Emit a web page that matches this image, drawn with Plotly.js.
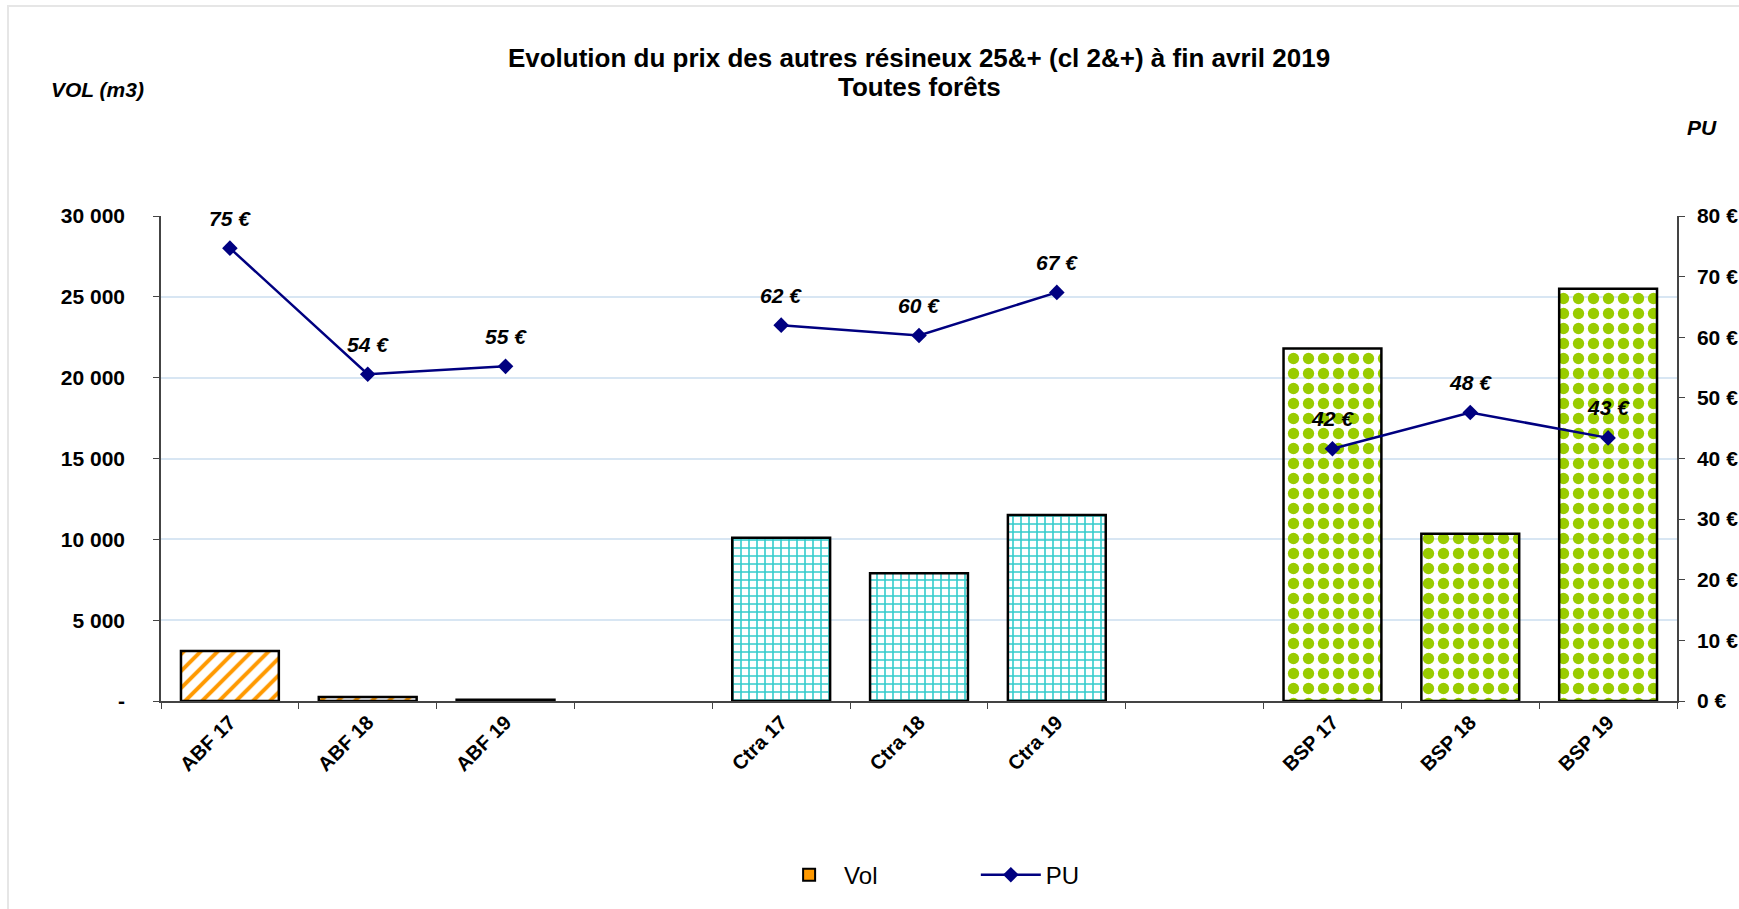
<!DOCTYPE html>
<html>
<head>
<meta charset="utf-8">
<script src="https://cdn.plot.ly/plotly-3.0.1.min.js"></script>
<style>
  html, body { margin: 0; padding: 0; background: #fff; }
  #frame { position: absolute; left: 7px; top: 5px; width: 1800px; height: 1000px; border-left: 2px solid #e6e6e6; border-top: 2px solid #e6e6e6; pointer-events: none; }
  #chart { width: 1739px; height: 909px; }
</style>
</head>
<body>
<div id="chart"></div>
<div id="frame"></div>
<script>
const categories = ['ABF 17', 'ABF 18', 'ABF 19', ' ', 'Ctra 17', 'Ctra 18', 'Ctra 19', '  ', 'BSP 17', 'BSP 18', 'BSP 19'];
const volValues = [3100, 250, 80, null, 10100, 7900, 11500, null, 21800, 10350, 25500];
const puValues = [74.7, 53.9, 55.2, null, 62.0, 60.3, 67.4, null, 41.6, 47.6, 43.4];
const groupColors = ['#FF9900', '#FF9900', '#FF9900', '#FFFFFF', '#33CCCC', '#33CCCC', '#33CCCC', '#FFFFFF', '#99CC00', '#99CC00', '#99CC00'];
const groupPatterns = ['/', '/', '/', '', '+', '+', '+', '', '.', '.', '.'];
const groupPatternSizes = [12, 12, 12, 8, 8, 8, 8, 8, 15, 15, 15];
const groupSolidity = [0.33, 0.33, 0.33, 0.3, 0.36, 0.36, 0.36, 0.3, 0.45, 0.45, 0.45];
const yTickVals = [0, 5000, 10000, 15000, 20000, 25000, 30000];
const yTickText = ['-', '5 000', '10 000', '15 000', '20 000', '25 000', '30 000'];

const FONT = 'Arial, "Liberation Sans", sans-serif';
const NB = '\u00A0';

const volTrace = {
  type: 'bar',
  name: 'Vol',
  x: categories,
  y: volValues,
  yaxis: 'y',
  showlegend: false,
  marker: {
    color: groupColors,
    line: { color: '#000000', width: 2.5 },
    pattern: {
      shape: groupPatterns,
      size: groupPatternSizes,
      solidity: groupSolidity,
      fillmode: 'replace',
      bgcolor: '#FFFFFF'
    }
  },
  hoverinfo: 'x+y'
};

const volLegendTrace = {
  type: 'bar',
  name: 'Vol' + NB.repeat(14),
  x: [categories[0]],
  y: [null],
  yaxis: 'y',
  marker: { color: '#FF9900', line: { color: '#000000', width: 2 } },
  showlegend: true,
  hoverinfo: 'skip'
};

const puTrace = {
  type: 'scatter',
  mode: 'lines+markers',
  name: 'PU',
  x: categories,
  y: puValues,
  yaxis: 'y2',
  connectgaps: false,
  line: { color: '#000080', width: 2.5 },
  marker: { symbol: 'diamond', size: 12, color: '#000080' },
  cliponaxis: false
};

const puLabels = [];
categories.forEach(function (c, i) {
  if (puValues[i] !== null) {
    puLabels.push({
      x: c, y: puValues[i], xref: 'x', yref: 'y2',
      text: '<b><i>' + Math.round(puValues[i]) + ' €</i></b>',
      showarrow: false, yshift: 30, yanchor: 'middle',
      font: { family: FONT, size: 21, color: '#000000' }
    });
  }
});

const layout = {
  width: 1739,
  height: 909,
  paper_bgcolor: '#FFFFFF',
  plot_bgcolor: '#FFFFFF',
  margin: { l: 161, r: 62, t: 216, b: 206 },
  barmode: 'overlay',
  bargap: 0.29,
  font: { family: FONT, color: '#000000' },
  title: {
    text: '<b>Evolution du prix des autres résineux 25&+ (cl 2&+) à fin avril 2019</b>',
    font: { family: FONT, size: 26, color: '#000000' },
    x: 0.5,
    xref: 'paper',
    xanchor: 'center',
    y: 0.936,
    yanchor: 'middle'
  },
  xaxis: {
    type: 'category',
    categoryorder: 'array',
    categoryarray: categories,
    range: [-0.5, categories.length - 0.5],
    tickangle: -45,
    tickfont: { family: FONT, size: 20, color: '#000000', weight: 'bold' },
    tickson: 'boundaries',
    ticks: 'outside',
    ticklen: 6,
    tickcolor: '#444444',
    showline: true,
    linecolor: '#444444',
    linewidth: 1.5,
    showgrid: false,
    zeroline: false
  },
  yaxis: {
    range: [0, 30000],
    tickvals: yTickVals,
    ticktext: yTickText,
    tickfont: { family: FONT, size: 21, color: '#000000', weight: 'bold' },
    ticks: 'outside',
    ticklen: 6,
    tickcolor: '#444444',
    ticklabelstandoff: 24,
    showline: true,
    linecolor: '#444444',
    linewidth: 1.5,
    showgrid: true,
    gridcolor: '#D8E6F3',
    gridwidth: 1.5,
    zeroline: false
  },
  yaxis2: {
    overlaying: 'y',
    side: 'right',
    range: [0, 80],
    dtick: 10,
    ticksuffix: ' €',
    tickfont: { family: FONT, size: 21, color: '#000000', weight: 'bold' },
    ticks: 'outside',
    ticklen: 6,
    tickcolor: '#444444',
    ticklabelstandoff: 8,
    showline: true,
    linecolor: '#444444',
    linewidth: 1.5,
    showgrid: false,
    zeroline: false
  },
  shapes: [
    { type: 'line', xref: 'paper', x0: 0, x1: 1, yref: 'y', y0: yTickVals[1], y1: yTickVals[1], line: { color: '#5a5a5a', width: 1.5 }, layer: 'below' },
    { type: 'line', xref: 'paper', x0: 0, x1: 1, yref: 'y', y0: yTickVals[2], y1: yTickVals[2], line: { color: '#AEB6BE', width: 1.5 }, layer: 'below' }
  ],
  legend: {
    orientation: 'h',
    x: 0.507,
    xanchor: 'center',
    y: -0.359,
    yanchor: 'middle',
    font: { family: FONT, size: 24, color: '#000000' },
    itemwidth: 60,
    tracegroupgap: 0
  },
  annotations: [
    { text: '<b>Toutes forêts</b>', xref: 'paper', yref: 'paper', x: 0.5, xanchor: 'center', y: 1.266, yanchor: 'middle', showarrow: false, font: { family: FONT, size: 26, color: '#000000' } },
    { text: '<b><i>VOL (m3)</i></b>', xref: 'paper', yref: 'paper', x: -0.074, xanchor: 'left', y: 1.26, yanchor: 'middle', showarrow: false, font: { family: FONT, size: 21, color: '#000000' } },
    { text: '<b><i>PU</i></b>', xref: 'paper', yref: 'paper', x: 1.005, xanchor: 'left', y: 1.183, yanchor: 'middle', showarrow: false, font: { family: FONT, size: 21, color: '#000000' } }
  ].concat(puLabels),
  hovermode: 'closest'
};

Plotly.newPlot('chart', [volTrace, volLegendTrace, puTrace], layout, { displayModeBar: false, responsive: false });
</script>
</body>
</html>
